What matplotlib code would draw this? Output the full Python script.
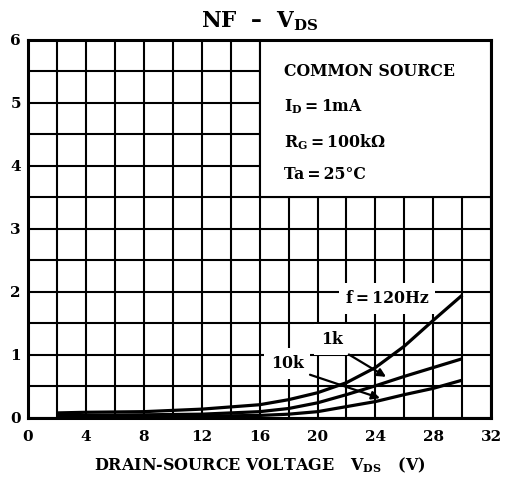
import matplotlib.pyplot as plt
from matplotlib.patches import Rectangle
import numpy as np

plt.rcParams['font.family'] = 'DejaVu Serif'
plt.rcParams['font.weight'] = 'bold'
plt.rcParams['axes.titleweight'] = 'bold'
plt.rcParams['axes.labelweight'] = 'bold'
plt.rcParams['mathtext.fontset'] = 'custom'
plt.rcParams['mathtext.rm'] = 'DejaVu Serif:bold'
plt.rcParams['mathtext.bf'] = 'DejaVu Serif:bold'
plt.rcParams['mathtext.default'] = 'rm'

# drain-source voltage (V)
vds = [2, 4, 8, 12, 16, 18, 20, 22, 24, 26, 28, 30]
# noise figure (dB) for each frequency
nf_120hz = [0.08, 0.09, 0.10, 0.14, 0.21, 0.29, 0.40, 0.56, 0.80, 1.14, 1.55, 1.95]
nf_1k = [0.04, 0.04, 0.05, 0.06, 0.10, 0.15, 0.24, 0.37, 0.51, 0.66, 0.80, 0.94]
nf_10k = [0.02, 0.02, 0.02, 0.03, 0.04, 0.06, 0.10, 0.18, 0.26, 0.37, 0.47, 0.60]

x_ticks = [0, 4, 8, 12, 16, 20, 24, 28, 32]
y_ticks = [0, 1, 2, 3, 4, 5, 6]

fig = plt.figure(figsize=(5.08, 4.86), dpi=100)
ax = fig.add_axes([0.055, 0.14, 0.912, 0.778])

ax.set_xlim(0, 32)
ax.set_ylim(0, 6)
ax.set_xticks(x_ticks)
ax.set_yticks(y_ticks)
ax.set_xticks(np.arange(0, 33, 2), minor=True)
ax.set_yticks(np.arange(0, 6.1, 0.5), minor=True)
ax.tick_params(which='both', length=0, labelsize=11)
ax.tick_params(axis='x', pad=9)
ax.tick_params(axis='y', pad=5)
ax.set_axisbelow(True)
ax.grid(which='both', color='black', linewidth=1.5)

for s in ax.spines.values():
    s.set_linewidth(2.2)
    s.set_zorder(5)

# white condition panel over the grid
ax.add_patch(Rectangle((16, 3.5), 16, 2.5, facecolor='white', edgecolor='black',
                       linewidth=1.5, zorder=1))

for ys in (nf_120hz, nf_1k, nf_10k):
    ax.plot(vds, ys, color='black', linewidth=2.3, zorder=3, solid_capstyle='butt')

fs = 11.3
ts = '\u2009'
ax.text(17.7, 5.49, 'COMMON SOURCE', fontsize=fs, va='center', zorder=4)
ax.text(17.7, 4.94, 'I$_{D}$' + ts + '=' + ts + '1mA', fontsize=fs, va='center', zorder=4)
ax.text(17.7, 4.38, 'R$_{G}$' + ts + '=' + ts + '100k\u03a9', fontsize=fs, va='center', zorder=4)
ax.text(17.7, 3.86, 'Ta' + ts + '=' + ts + '25\u00b0C', fontsize=fs, va='center', zorder=4)

box = dict(facecolor='white', edgecolor='none', pad=5)
ax.text(24.8, 1.89, 'f' + ts + '=' + ts + '120Hz', fontsize=fs, ha='center', va='center',
        bbox=box, zorder=4)
ax.text(21.0, 1.24, '1k', fontsize=fs, ha='center', va='center', bbox=box, zorder=4)
ax.text(17.9, 0.87, '10k', fontsize=fs, ha='center', va='center', bbox=box, zorder=4)

arrow = dict(arrowstyle='-|>', color='black', lw=1.6, mutation_scale=12)
ax.annotate('', xy=(24.9, 0.63), xytext=(22.0, 1.03), arrowprops=arrow, zorder=4)
ax.annotate('', xy=(24.5, 0.30), xytext=(19.3, 0.70), arrowprops=arrow, zorder=4)

ax.set_title('NF  \u2013  V$_{DS}$', fontsize=15.5, pad=9)
ax.set_xlabel('DRAIN-SOURCE VOLTAGE   V$_{DS}$   (V)', fontsize=11.5, labelpad=8)

fig.savefig('out.png', dpi=100)
